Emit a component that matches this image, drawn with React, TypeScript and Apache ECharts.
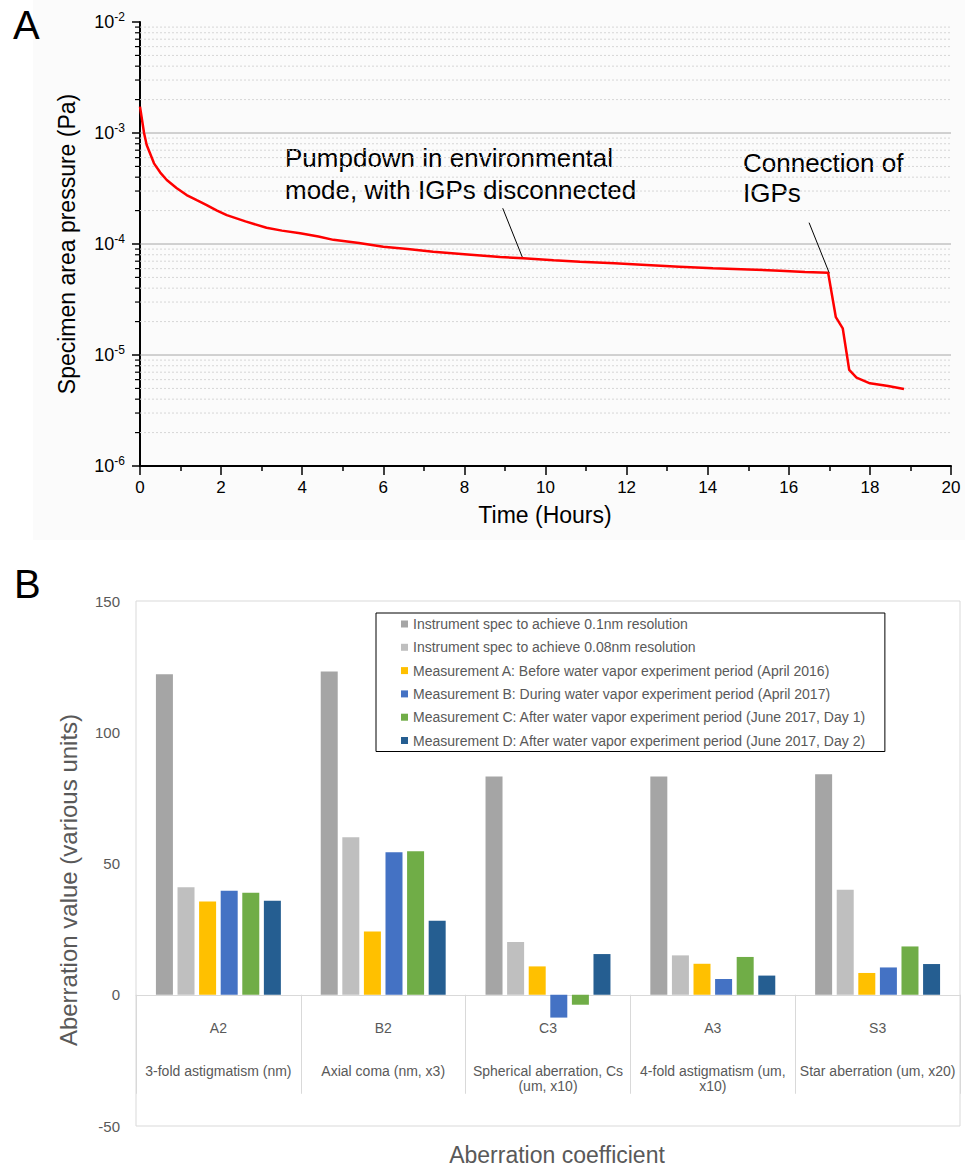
import React, { useEffect, useRef } from 'react';
import * as echarts from 'echarts';

// ---------- Panel A data ----------
const hours = [0, 0.1, 0.165, 0.345, 0.5, 0.66, 0.9, 1.15, 1.4, 1.645, 1.9, 2.14, 2.6, 3.12, 3.5, 3.95, 4.4, 4.77, 5.4, 6.0, 6.6, 7.23, 8.0, 8.88, 9.45, 10.2, 10.85, 11.7, 12.49, 13.3, 14.13, 15.0, 15.78, 16.4, 16.97, 17.16, 17.33, 17.49, 17.67, 18.0, 18.45, 18.84];
const pressure = [1.73e-3, 1.0e-3, 7.8e-4, 5.33e-4, 4.4e-4, 3.77e-4, 3.2e-4, 2.76e-4, 2.48e-4, 2.24e-4, 2.0e-4, 1.82e-4, 1.6e-4, 1.4e-4, 1.32e-4, 1.25e-4, 1.17e-4, 1.09e-4, 1.02e-4, 9.46e-5, 9.0e-5, 8.53e-5, 8.1e-5, 7.65e-5, 7.43e-5, 7.15e-5, 6.93e-5, 6.7e-5, 6.47e-5, 6.25e-5, 6.04e-5, 5.9e-5, 5.75e-5, 5.6e-5, 5.5e-5, 2.19e-5, 1.74e-5, 7.33e-6, 6.25e-6, 5.56e-6, 5.26e-6, 4.94e-6];
const decades = [1e-6, 1e-5, 1e-4, 1e-3];
const minorMultipliers = [2, 3, 4, 5, 6, 7, 8, 9];
const majorGridValues = [1e-5, 1e-4, 1e-3];
const pumpdownLeader = [[8.945, 2.1e-4], [9.44, 7.43e-5]];
const connectionLeader = [[16.5, 1.556e-4], [17.0, 5.45e-5]];

// ---------- Panel B data ----------
const categories = [
  'A2\n\n\n3-fold astigmatism (nm)',
  'B2\n\n\nAxial coma (nm, x3)',
  'C3\n\n\nSpherical aberration, Cs\n(um, x10)',
  'A3\n\n\n4-fold astigmatism (um,\nx10)',
  'S3\n\n\nStar aberration (um, x20)',
];
const seriesNames = [
  'Instrument spec to achieve 0.1nm resolution',
  'Instrument spec to achieve 0.08nm resolution',
  'Measurement A: Before water vapor experiment period (April 2016)',
  'Measurement B: During water vapor experiment period (April 2017)',
  'Measurement C: After water vapor experiment period (June 2017, Day 1)',
  'Measurement D: After water vapor experiment period (June 2017, Day 2)',
];
const spec01 = [122.1, 123.1, 83.1, 83.1, 84.0];
const spec008 = [41.0, 60.0, 20.1, 15.0, 40.0];
const measA = [35.5, 24.1, 10.8, 11.8, 8.3];
const measB = [39.6, 54.3, -8.7, 6.0, 10.4];
const measC = [38.9, 54.7, -3.8, 14.4, 18.4];
const measD = [35.8, 28.2, 15.5, 7.3, 11.7];
const barValues = [spec01, spec008, measA, measB, measC, measD];
const barColors = ['#a5a5a5', '#bfbfbf', '#ffc000', '#4472c4', '#70ad47', '#255e91'];
const yTicksB = [-50, 0, 50, 100, 150];

const FONT = '"Liberation Sans", Arial, sans-serif';

export default function App() {
  const ref = useRef<HTMLDivElement>(null);

  useEffect(() => {
    if (!ref.current) return;
    const chart = echarts.init(ref.current, undefined, { renderer: 'svg' });

    const minorValues = decades.flatMap((d) => minorMultipliers.map((m) => m * d));
    const gridData = [
      ...minorValues.map((v) => [0, v, 0]),
      ...majorGridValues.map((v) => [0, v, 1]),
    ];

    const option: any = {
      animation: false,
      textStyle: { fontFamily: FONT },
      graphic: [
        { type: 'rect', z: -10, shape: { x: 33, y: 0, width: 932, height: 540 }, style: { fill: '#fbfbfb' }, silent: true },
        { type: 'text', x: 13, y: 25, style: { text: 'A', fontSize: 40, fontFamily: FONT, fill: '#000', verticalAlign: 'middle' } },
        { type: 'text', x: 14, y: 584, style: { text: 'B', fontSize: 40, fontFamily: FONT, fill: '#000', verticalAlign: 'middle' } },
        { type: 'text', x: 285, y: 142, style: { text: 'Pumpdown in environmental\nmode, with IGPs disconnected', fontSize: 26, lineHeight: 32, fontFamily: FONT, fill: '#000', verticalAlign: 'top' } },
        { type: 'text', x: 743, y: 148, style: { text: 'Connection of\nIGPs', fontSize: 26, lineHeight: 30, fontFamily: FONT, fill: '#000', verticalAlign: 'top' } },
        { type: 'text', x: 67, y: 244, rotation: Math.PI / 2, style: { text: 'Specimen area pressure (Pa)', fontSize: 23, fontFamily: FONT, fill: '#000', align: 'center', verticalAlign: 'middle' } },
        { type: 'text', x: 545, y: 515, style: { text: 'Time (Hours)', fontSize: 23, fontFamily: FONT, fill: '#000', align: 'center', verticalAlign: 'middle' } },
        { type: 'text', x: 68, y: 880, rotation: Math.PI / 2, style: { text: 'Aberration value (various units)', fontSize: 24, fontFamily: FONT, fill: '#595959', align: 'center', verticalAlign: 'middle' } },
        { type: 'text', x: 557, y: 1155, style: { text: 'Aberration coefficient', fontSize: 23, fontFamily: FONT, fill: '#595959', align: 'center', verticalAlign: 'middle' } },
      ],
      grid: [
        { left: 140, top: 22, width: 811, height: 444, outerBoundsMode: 'none', containLabel: false },
        { left: 136, top: 601, width: 824, height: 525, show: true, borderColor: '#d9d9d9', borderWidth: 1, outerBoundsMode: 'none', containLabel: false },
      ],
      legend: {
        data: seriesNames,
        orient: 'vertical',
        left: 376,
        top: 613,
        padding: [3, 19, 3, 25],
        itemWidth: 7,
        itemHeight: 7,
        itemGap: 7.3,
        icon: 'rect',
        borderColor: '#000',
        borderWidth: 1,
        backgroundColor: '#fff',
        textStyle: { color: '#595959', fontSize: 14, lineHeight: 16, fontFamily: FONT },
      },
      xAxis: [
        {
          type: 'value', gridIndex: 0, min: 0, max: 20, interval: 2,
          axisLine: { lineStyle: { color: '#000', width: 2 } },
          axisTick: { show: true, length: 9, lineStyle: { color: '#000', width: 1.5 } },
          minorTick: { show: true, splitNumber: 2, length: 5, lineStyle: { color: '#000', width: 1.5 } },
          splitLine: { show: false },
          axisLabel: { color: '#000', fontSize: 17, margin: 13, fontFamily: FONT },
        },
        {
          type: 'category', gridIndex: 1, data: categories,
          axisLine: { onZero: true, lineStyle: { color: '#d9d9d9', width: 1 } },
          axisTick: { show: true, interval: 0, length: 99, lineStyle: { color: '#d9d9d9' } },
          axisLabel: { interval: 0, color: '#595959', fontSize: 14, lineHeight: 14.5, margin: -105.5, fontFamily: FONT, verticalAlign: 'top' },
          splitLine: { show: false },
        },
      ],
      yAxis: [
        {
          type: 'log', gridIndex: 0, logBase: 10, min: 1e-6, max: 1e-2,
          axisLine: { show: true, lineStyle: { color: '#000', width: 2 } },
          axisTick: { show: true, length: 8, lineStyle: { color: '#000', width: 1.5 } },
          splitLine: { show: false },
          axisLabel: {
            margin: 15,
            formatter: (v: number) => `{a|10}{b|${Math.round(Math.log10(v))}}`,
            rich: {
              a: { fontSize: 18, color: '#000', lineHeight: 22, fontFamily: FONT },
              b: { fontSize: 12, color: '#000', lineHeight: 12, verticalAlign: 'top', fontFamily: FONT },
            },
          },
        },
        {
          type: 'value', gridIndex: 1, min: yTicksB[0], max: yTicksB[yTicksB.length - 1], interval: 50,
          axisLine: { show: false }, axisTick: { show: false }, splitLine: { show: false },
          axisLabel: { color: '#595959', fontSize: 15, margin: 16, fontFamily: FONT },
        },
      ],
      series: [
        {
          type: 'custom', name: 'gridlines', xAxisIndex: 0, yAxisIndex: 0, z: 1, clip: false, silent: true,
          encode: { x: 0, y: 1 },
          data: gridData,
          renderItem: (params: any, api: any) => {
            const v = api.value(1);
            const kind = api.value(2);
            const a = api.coord([0, v]);
            const b = api.coord([20, v]);
            const children: any[] = [
              {
                type: 'line',
                shape: { x1: a[0], y1: a[1], x2: b[0], y2: b[1] },
                style: kind ? { stroke: '#a6a6a6', lineWidth: 1 } : { stroke: '#d6d6d6', lineWidth: 1, lineDash: [2, 2] },
              },
            ];
            if (!kind) {
              children.push({ type: 'line', shape: { x1: a[0] - 5, y1: a[1], x2: a[0], y2: a[1] }, style: { stroke: '#000', lineWidth: 1.2 } });
            }
            return { type: 'group', children };
          },
        },
        {
          type: 'line', name: 'Pressure', xAxisIndex: 0, yAxisIndex: 0, z: 5,
          data: hours.map((t, i) => [t, pressure[i]]),
          showSymbol: false, symbol: 'none',
          lineStyle: { color: '#ff0000', width: 2.5 },
          markLine: {
            silent: true, symbol: ['none', 'none'],
            label: { show: false },
            lineStyle: { color: '#000', width: 1, type: 'solid' },
            data: [
              [{ coord: pumpdownLeader[0] }, { coord: pumpdownLeader[1] }],
              [{ coord: connectionLeader[0] }, { coord: connectionLeader[1] }],
            ],
          },
        },
        ...barValues.map((vals, i) => ({
          type: 'bar', name: seriesNames[i], xAxisIndex: 1, yAxisIndex: 1,
          data: vals, barWidth: 17, barGap: '27%',
          itemStyle: { color: barColors[i] },
        })),
      ],
    };

    chart.setOption(option);
    return () => chart.dispose();
  }, []);

  return (
    <div
      ref={ref}
      style={{ position: 'fixed', left: 0, top: 0, width: 972, height: 1167, background: '#fff' }}
    />
  );
}
